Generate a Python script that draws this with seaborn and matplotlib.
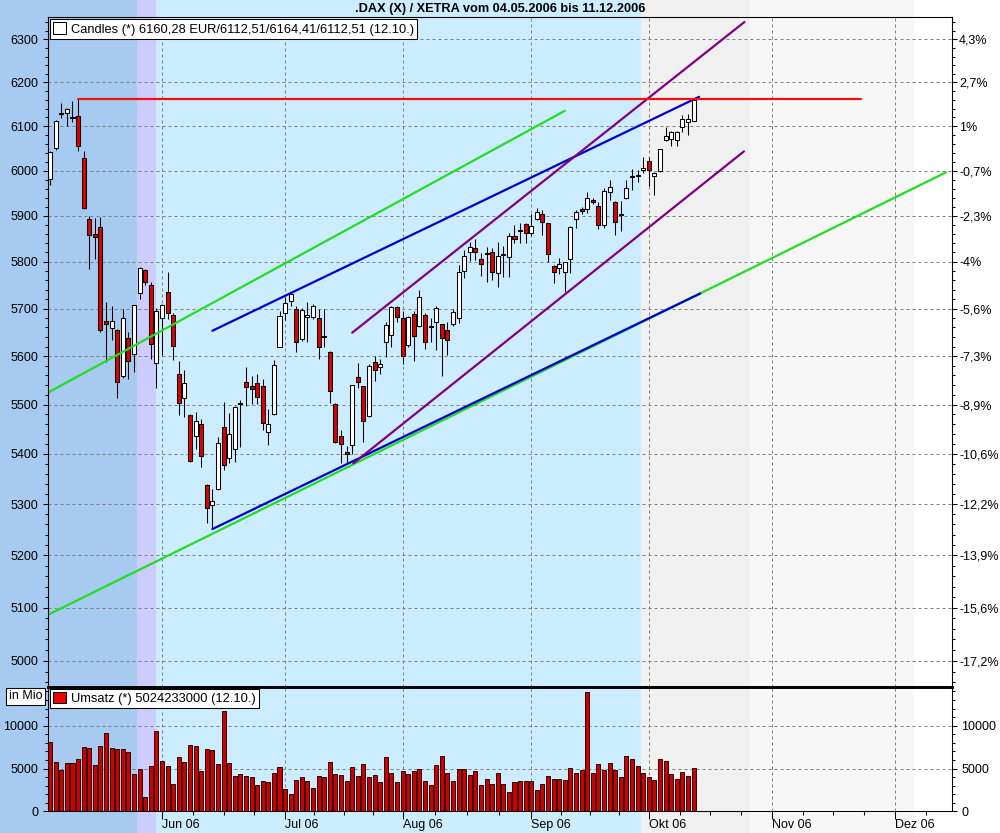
import numpy as np
import pandas as pd
import matplotlib
matplotlib.use("Agg")
import matplotlib.pyplot as plt
import matplotlib.transforms as mtransforms
from matplotlib.patches import Rectangle, Patch
from matplotlib.ticker import FixedLocator, NullFormatter
import seaborn as sns

sns.set_style("ticks")
plt.rcParams["font.family"] = ["Liberation Sans", "DejaVu Sans"]
plt.rcParams["axes.edgecolor"] = "black"
plt.rcParams["xtick.color"] = "black"
plt.rcParams["ytick.color"] = "black"
plt.rcParams["text.color"] = "black"

# DAX daily candles, trading day 0 = 04.05.2006 ... 115 = 12.10.2006
opens = [5982, 6051, 6128, 6130, 6121, 6122, 6029, 5894, 5860, 5875,
         5673, 5658, 5654, 5558, 5637, 5605, 5732, 5783, 5749, 5585,
         5679, 5735, 5686, 5563, 5513, 5479, 5437, 5460, 5338, 5299,
         5330, 5455, 5392, 5409, 5502, 5547, 5538, 5544, 5538, 5445,
         5481, 5619, 5690, 5715, 5700, 5636, 5683, 5681, 5680, 5642,
         5609, 5502, 5436, 5403, 5417, 5557, 5538, 5476, 5587, 5578,
         5629, 5645, 5703, 5680, 5623, 5688, 5664, 5686, 5664, 5672,
         5667, 5655, 5667, 5680, 5781, 5821, 5829, 5805, 5817, 5820,
         5775, 5814, 5811, 5856, 5867, 5882, 5863, 5892, 5905, 5884,
         5791, 5786, 5777, 5807, 5892, 5914, 5914, 5935, 5922, 5880,
         5952, 5930, 5902, 5939, 5985, 5988, 6001, 6021, 5989, 5998,
         6068, 6071, 6068, 6097, 6110, 6112.51]
highs = [6043, 6114, 6152, 6142, 6158, 6162, 6043, 5900, 5895, 5897,
         5714, 5705, 5656, 5700, 5651, 5708, 5788, 5784, 5757, 5702,
         5710, 5777, 5690, 5590, 5571, 5480, 5485, 5470, 5340, 5330,
         5435, 5505, 5483, 5496, 5509, 5578, 5558, 5562, 5553, 5490,
         5591, 5695, 5724, 5733, 5705, 5702, 5714, 5710, 5700, 5700,
         5610, 5503, 5448, 5415, 5541, 5585, 5539, 5583, 5600, 5594,
         5672, 5706, 5706, 5695, 5685, 5695, 5739, 5690, 5680, 5706,
         5668, 5672, 5700, 5793, 5825, 5843, 5849, 5818, 5832, 5830,
         5843, 5833, 5862, 5880, 5884, 5885, 5905, 5918, 5913, 5885,
         5792, 5809, 5800, 5877, 5913, 5920, 5952, 5940, 5930, 5962,
         5979, 5932, 5933, 5979, 6003, 6001, 6030, 6030, 5996, 6049,
         6098, 6088, 6088, 6126, 6128, 6164.41]
lows = [5969, 6047, 6119, 6100, 6109, 6045, 5915, 5785, 5805, 5651,
        5587, 5634, 5513, 5555, 5552, 5568, 5721, 5749, 5593, 5533,
        5602, 5677, 5592, 5478, 5474, 5383, 5410, 5374, 5262, 5253,
        5328, 5368, 5382, 5384, 5414, 5498, 5501, 5501, 5449, 5418,
        5479, 5618, 5675, 5705, 5609, 5632, 5629, 5677, 5594, 5619,
        5504, 5421, 5381, 5381, 5399, 5533, 5423, 5474, 5549, 5562,
        5598, 5619, 5672, 5584, 5619, 5590, 5660, 5614, 5630, 5612,
        5558, 5603, 5664, 5669, 5765, 5802, 5804, 5770, 5756, 5761,
        5746, 5768, 5768, 5840, 5841, 5841, 5855, 5890, 5857, 5800,
        5754, 5773, 5736, 5775, 5874, 5905, 5907, 5925, 5871, 5874,
        5935, 5857, 5866, 5936, 5956, 5974, 5995, 5965, 5945, 5996,
        6066, 6056, 6055, 6087, 6080, 6112.51]
closes = [6041, 6112, 6129, 6140, 6119, 6055, 5917, 5859, 5853, 5654,
          5668, 5673, 5547, 5679, 5589, 5707, 5787, 5757, 5625, 5694,
          5707, 5690, 5622, 5504, 5544, 5385, 5466, 5396, 5293, 5307,
          5421, 5377, 5441, 5494, 5504, 5535, 5532, 5516, 5463, 5460,
          5582, 5684, 5712, 5730, 5629, 5697, 5686, 5706, 5618, 5640,
          5528, 5423, 5420, 5399, 5540, 5547, 5466, 5579, 5572, 5584,
          5666, 5703, 5683, 5600, 5682, 5642, 5724, 5629, 5661, 5702,
          5638, 5633, 5693, 5777, 5813, 5832, 5820, 5796, 5819, 5777,
          5813, 5816, 5856, 5849, 5869, 5862, 5878, 5909, 5886, 5817,
          5777, 5796, 5799, 5876, 5908, 5911, 5939, 5930, 5880, 5955,
          5963, 5886, 5904, 5962, 5989, 5990, 6005, 6001, 5994, 6048,
          6077, 6087, 6087, 6117, 6116, 6160.28]

# Umsatz in Mio
volume = [8100, 5730, 4780, 5610, 5690, 6080, 7500, 7390, 5370, 7620,
          9160, 7390, 7270, 7270, 6910, 4350, 4940, 1700, 5290, 9400,
          5850, 5250, 3160, 6320, 5730, 7740, 7660, 4660, 7270, 7150,
          5530, 11770, 5610, 4070, 4310, 4070, 3950, 3120, 3590, 3480,
          4420, 5140, 2650, 2050, 3710, 3950, 3590, 2770, 4070, 3950,
          5730, 4350, 4190, 3590, 5140, 4070, 5490, 3950, 4190, 3480,
          6320, 4420, 3480, 4660, 4310, 4660, 4900, 3590, 3120, 5370,
          6440, 4420, 3590, 4900, 4900, 4190, 4660, 3120, 3830, 3240,
          4420, 3240, 2290, 3480, 3590, 3590, 3590, 2530, 3240, 4070,
          3830, 3830, 3710, 5020, 4420, 4780, 13900, 4420, 5490, 4780,
          5610, 4780, 3950, 6440, 6080, 5250, 4420, 3950, 3710, 6080,
          5850, 4310, 3830, 4540, 4070, 5024]

# month starts as trading-day index
month_pos = [20, 42, 63, 86, 107, 129, 151]
month_labels = ["Jun 06", "Jul 06", "Aug 06", "Sep 06", "Okt 06", "Nov 06", "Dez 06"]

price_ticks = list(range(5000, 6301, 100))
pct_labels = ["-17,2%", "-15,6%", "-13,9%", "-12,2%", "-10,6%", "-8,9%", "-7,3%",
              "-5,6%", "-4%", "-2,3%", "-0,7%", "1%", "2,7%", "4,3%"]
vol_ticks = [0, 5000, 10000]

# trend lines (start / end in trading day, price)
line_names = ["green_top", "green_top", "green_bot", "green_bot",
              "blue_top", "blue_top", "blue_bot", "blue_bot",
              "purple_top", "purple_top", "purple_bot", "purple_bot",
              "resistance", "resistance"]
line_days = [-0.43, 92.0, -0.43, 160.1, 29.0, 116.0, 29.0, 116.2,
             54.0, 124.1, 54.2, 124.0, 5, 145]
line_prices = [5524, 6135, 5086, 5996, 5653, 6167, 5251, 5732,
               5649, 6341, 5381, 6043, 6162, 6162]
line_colors = {"green_top": "#22dd22", "green_bot": "#22dd22",
               "blue_top": "#0000cc", "blue_bot": "#0000cc",
               "purple_top": "#800080", "purple_bot": "#800080",
               "resistance": "#ee1111"}

# background periods (trading-day boundaries)
band_edges = [-12, 15.5, 18.95, 105.56, 125.1, 154.4]
band_colors = ["#a6caf0", "#ccccff", "#ccecff", "#f0f0f0", "#f7f7f7"]

fig = plt.figure(figsize=(10, 8.33), dpi=100, facecolor="white")
ax = fig.add_axes([0.0477, 0.1756, 0.904, 0.8036])
axv = fig.add_axes([0.0477, 0.02605, 0.904, 0.1496], sharex=ax)
for a in (ax, axv):
    a.set_facecolor("none")

# background bands over whole figure height
trans = mtransforms.blended_transform_factory(ax.transData, fig.transFigure)
for x0, x1, col in zip(band_edges[:-1], band_edges[1:], band_colors):
    fig.add_artist(Rectangle((x0, 0), x1 - x0, 1, transform=trans,
                             facecolor=col, edgecolor="none", zorder=-5))

grid_kw = dict(color="#808080", linestyle=(0, (3, 3)), linewidth=0.72)

# candles
days = np.arange(len(closes))
o = np.array(opens)
c = np.array(closes)
lo = np.minimum(o, c)
hi = np.maximum(o, c)
ax.set_yscale("log")
ax.vlines(days, lows, highs, color="black", linewidth=0.75, zorder=3)
ax.bar(days, np.maximum(hi - lo, 1.5), bottom=lo, width=0.72,
       color=np.where(c >= o, "white", "#dd0000"), edgecolor="black",
       linewidth=0.75, zorder=4)

lines_df = pd.DataFrame({"line": line_names, "day": line_days, "price": line_prices})
sns.lineplot(data=lines_df, x="day", y="price", hue="line", palette=line_colors,
             estimator=None, legend=False, linewidth=1.6, ax=ax, zorder=5)

ax.set_ylim(4952, 6352)
ax.set_xlim(-0.43, 161.14)
ax.yaxis.set_major_locator(FixedLocator(price_ticks))
ax.set_yticklabels([str(p) for p in price_ticks])
ax.yaxis.set_minor_locator(FixedLocator(list(range(4960, 6351, 20))))
ax.yaxis.set_minor_formatter(NullFormatter())
ax.tick_params(axis="y", which="major", length=3.6, width=0.75, pad=3.2, labelsize=9)
ax.tick_params(axis="y", which="minor", length=2.4, width=0.75)
ax.tick_params(axis="x", which="both", bottom=False, labelbottom=False)
ax.set_xlabel("")
ax.set_ylabel("")
ax.grid(True, which="major", **grid_kw)
ax.set_axisbelow(True)
for s in ax.spines.values():
    s.set_linewidth(0.75)
ax.spines["bottom"].set_linewidth(1.9)

# right percentage axis
axp = ax.twinx()
axp.set_yscale("log")
axp.set_ylim(ax.get_ylim())
axp.yaxis.set_major_locator(FixedLocator(price_ticks))
axp.set_yticklabels(pct_labels)
axp.yaxis.set_minor_locator(FixedLocator(list(range(4960, 6351, 20))))
axp.yaxis.set_minor_formatter(NullFormatter())
axp.tick_params(axis="y", which="major", length=3.6, width=0.75, pad=1.7, labelsize=9)
axp.tick_params(axis="y", which="minor", length=2.4, width=0.75)
for s in axp.spines.values():
    s.set_linewidth(0.75)
axp.spines["bottom"].set_linewidth(1.9)

leg = axp.legend(handles=[Patch(facecolor="white", edgecolor="black", linewidth=0.75)],
                 labels=["Candles (*) 6160,28 EUR/6112,51/6164,41/6112,51 (12.10.)"],
                 loc="upper left", fontsize=9.3, fancybox=False, framealpha=1,
                 edgecolor="black", borderpad=0.25, handlelength=1.0, handleheight=1.0,
                 handletextpad=0.4, borderaxespad=0.15)
leg.get_frame().set_linewidth(0.75)

# volume panel
sns.barplot(x=days, y=volume, native_scale=True, width=0.72, color="#cc0000",
            saturation=1, edgecolor="#300000", linewidth=0.7, errorbar=None, ax=axv)
axv.set_xlim(-0.43, 161.14)
axv.set_ylim(0, 14560)
axv.set_yticks(vol_ticks, labels=[str(v) for v in vol_ticks])
axv.set_yticks(list(range(1000, 14001, 1000)), minor=True)
axv.tick_params(axis="y", which="major", length=3.6, width=0.75, pad=3.2, labelsize=9,
                left=True, right=True, labelleft=True, labelright=True)
axv.tick_params(axis="y", which="minor", length=2.4, width=0.75, left=True, right=True)
axv.set_xticks(month_pos, labels=month_labels)
minor_x = []
for m0, m1 in zip(month_pos[:-1], month_pos[1:]):
    minor_x += [m0 + k * (m1 - m0) / 4 for k in (1, 2, 3)]
minor_x.append(month_pos[-1] + 5.5)
axv.set_xticks(minor_x, minor=True)
axv.tick_params(axis="x", which="major", length=5.5, width=0.75, pad=0.3, labelsize=9)
axv.tick_params(axis="x", which="minor", length=2.7, width=0.75)
for lbl in axv.get_xticklabels():
    lbl.set_horizontalalignment("left")
axv.set_xlabel("")
axv.set_ylabel("")
axv.grid(True, which="major", **grid_kw)
axv.set_axisbelow(True)
for s in axv.spines.values():
    s.set_linewidth(0.75)
axv.spines["top"].set_visible(False)
axv.spines["right"].set_visible(True)

vleg = axv.legend(handles=[Patch(facecolor="#ee0000", edgecolor="black", linewidth=0.75)],
                  labels=["Umsatz (*) 5024233000 (12.10.)"],
                  loc="upper left", fontsize=9.3, fancybox=False, framealpha=1,
                  edgecolor="black", borderpad=0.25, handlelength=1.0, handleheight=1.0,
                  handletextpad=0.4, borderaxespad=0.15)
vleg.get_frame().set_linewidth(0.75)

fig.text(0.5, 1 - 9 / 833, ".DAX (X) / XETRA vom 04.05.2006 bis 11.12.2006",
         ha="center", va="center", fontsize=9.2, fontweight="bold")
fig.text(25.5 / 1000, 1 - 696 / 833, "in Mio", ha="center", va="center", fontsize=9,
         bbox=dict(boxstyle="square,pad=0.2", facecolor="white", edgecolor="black",
                   linewidth=0.75))

fig.savefig("out.png", dpi=100)
